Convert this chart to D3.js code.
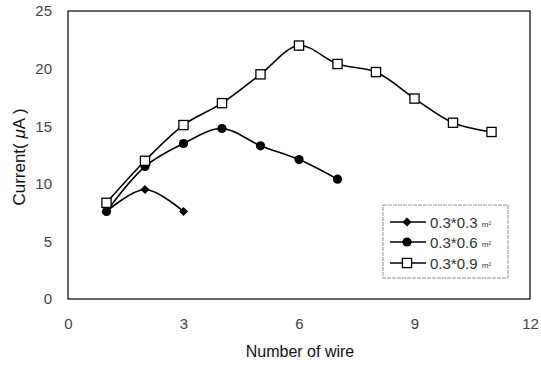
<!DOCTYPE html>
<html><head><meta charset="utf-8">
<script src="https://cdn.jsdelivr.net/npm/d3@7"></script>
<style>body{margin:0;background:#fff}text{font-family:"Liberation Sans",Arial,sans-serif}</style>
</head><body>
<svg id="c" width="541" height="366"></svg>
<script>
const xTicks = [0, 3, 6, 9, 12];
const yTicks = [0, 5, 10, 15, 20, 25];
const x03 = [1, 2, 3];
const y03 = [7.6, 9.5, 7.6];
const x06 = [1, 2, 3, 4, 5, 6, 7];
const y06 = [7.6, 11.5, 13.5, 14.8, 13.3, 12.1, 10.4];
const x09 = [1, 2, 3, 4, 5, 6, 7, 8, 9, 10, 11];
const y09 = [8.35, 12.0, 15.1, 17.0, 19.5, 22.0, 20.4, 19.7, 17.4, 15.3, 14.5];
const seriesNames = ["0.3*0.3", "0.3*0.6", "0.3*0.9"];
const xTitle = "Number of wire";

const svg = d3.select("#c");
const x = d3.scaleLinear().domain([0, 12]).range([68, 530]);
const y = d3.scaleLinear().domain([0, 25]).range([299, 11]);

svg.append("rect").attr("x", 68).attr("y", 11).attr("width", 462).attr("height", 288)
  .attr("fill", "none").attr("stroke", "#000").attr("stroke-width", 1.2);

const gx = svg.append("g").attr("transform", "translate(0,299)")
  .call(d3.axisBottom(x).tickValues(xTicks).tickSize(0).tickPadding(19));
const gy = svg.append("g").attr("transform", "translate(68,0)")
  .call(d3.axisLeft(y).tickValues(yTicks).tickSize(0).tickPadding(16));
[gx, gy].forEach(g => {
  g.select(".domain").remove();
  g.selectAll("text").attr("font-size", 15).attr("fill", "#444")
    .style("font-family", "'Liberation Sans',Arial,sans-serif");
});

svg.append("text").attr("x", 300).attr("y", 357).attr("text-anchor", "middle")
  .attr("font-size", 16).attr("fill", "#111").text(xTitle);
const yl = svg.append("text").attr("transform", "translate(25,157) rotate(-90)")
  .attr("text-anchor", "middle").attr("font-size", 17).attr("fill", "#111");
yl.append("tspan").text("Current( ");
yl.append("tspan").attr("font-style", "italic").text("μ");
yl.append("tspan").text("A )");

const line = d3.line().x(d => x(d[0])).y(d => y(d[1])).curve(d3.curveCatmullRom.alpha(0.5));
const series = [
  {xs: x03, ys: y03, m: "diamond"},
  {xs: x06, ys: y06, m: "circle"},
  {xs: x09, ys: y09, m: "square"}
];
function marker(g, m, cx, cy) {
  if (m === "diamond") {
    g.append("path").attr("d", `M${cx},${cy-4.5}L${cx+4.5},${cy}L${cx},${cy+4.5}L${cx-4.5},${cy}Z`).attr("fill", "#000");
  } else if (m === "circle") {
    g.append("circle").attr("cx", cx).attr("cy", cy).attr("r", 4.6).attr("fill", "#000");
  } else {
    g.append("rect").attr("x", cx-4.6).attr("y", cy-4.6).attr("width", 9.2).attr("height", 9.2)
      .attr("fill", "#fff").attr("stroke", "#000").attr("stroke-width", 1.3);
  }
}
series.forEach(s => {
  const pts = s.xs.map((v, i) => [v, s.ys[i]]);
  svg.append("path").attr("d", line(pts)).attr("fill", "none").attr("stroke", "#000").attr("stroke-width", 1.6);
});
series.forEach(s => {
  const g = svg.append("g");
  s.xs.forEach((v, i) => marker(g, s.m, x(v), y(s.ys[i])));
});

const lg = svg.append("g");
lg.append("rect").attr("x", 383).attr("y", 205).attr("width", 125).attr("height", 73)
  .attr("fill", "#fff").attr("stroke", "#777").attr("stroke-width", 0.8).attr("stroke-dasharray", "4,1");
const rows = [222, 242, 263];
series.forEach((s, i) => {
  const ry = rows[i];
  lg.append("line").attr("x1", 390).attr("x2", 426).attr("y1", ry).attr("y2", ry).attr("stroke", "#000").attr("stroke-width", 1.4);
  marker(lg, s.m, 407, ry);
  const t = lg.append("text").attr("x", 430).attr("y", ry + 5.5).attr("font-size", 15).attr("fill", "#333");
  t.append("tspan").text(seriesNames[i] + " ");
  t.append("tspan").attr("font-size", 8).attr("dy", -1).text("m²");
});
</script>
</body></html>
